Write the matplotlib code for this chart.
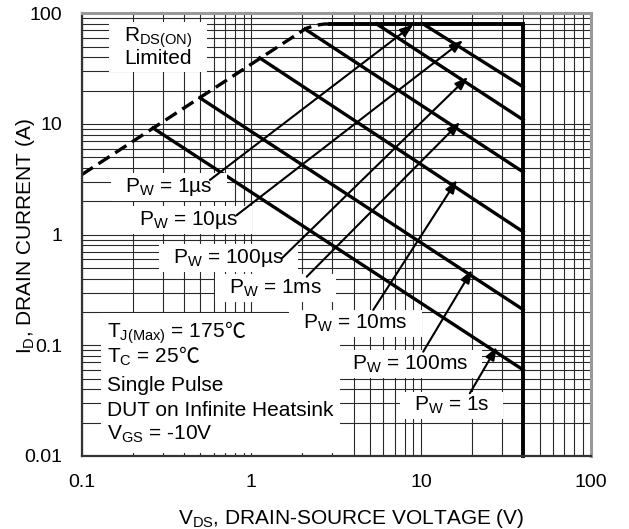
import matplotlib
matplotlib.use("Agg")
import matplotlib.pyplot as plt
from matplotlib.patches import Rectangle
from matplotlib.transforms import Bbox

plt.rcParams['font.family'] = ['Liberation Sans', 'DejaVu Sans']
plt.rcParams['mathtext.default'] = 'regular'

# device limits
v_max = 40.0
i_max = 80.0
v_flat = 2.9   # where the top (80 A) limit line starts

# R_DS(on) limited part (dashed)
rds_v = [0.1, 2.1, 2.4, 2.7, 2.9]
rds_i = [3.48, 73.0, 78.0, 80.0, 80.0]

# pulse lines: start point on the limit, current at v_max
pulse_v0 = [0.263, 0.498, 1.12, 2.07, 5.48, 10.3]
pulse_i0 = [9.2, 17.2, 39.5, 72.0, 80.0, 80.0]
pulse_iend = [0.06, 0.21, 1.06, 3.68, 10.9, 21.6]

# pulse width labels and their arrows
pw_text = ['1µs', '10µs', '100µs', '1ms', '10ms', '100ms', '1s']
pw_x = [0.0851, 0.1132, 0.180, 0.290, 0.4354, 0.5316, 0.6528]   # axes fraction, left
pw_y = [0.597, 0.5218, 0.4353, 0.3675, 0.2869, 0.1958, 0.1016]  # axes fraction, baseline
arr_v0 = [0.57, 0.82, 1.51, 2.12, 5.23, 10.3, 19.4]
arr_i0 = [3.12, 1.5, 0.61, 0.417, 0.209, 0.0876, 0.0369]
arr_v1 = [9.0, 17.7, 18.9, 17.0, 16.3, 20.0, 28.0]
arr_i1 = [79.0, 57.0, 26.6, 10.4, 3.12, 0.48, 0.0967]

xticks = [0.1, 1, 10, 100]
xtick_labels = ['0.1', '1', '10', '100']
yticks = [0.01, 0.1, 1, 10, 100]
ytick_labels = ['0.01', '0.1', '1', '10', '100']

fig = plt.figure(figsize=(6.29, 5.29), dpi=100)
ax = fig.add_axes([0.1299, 0.138, 0.8092, 0.8369])
ax.set_xscale('log')
ax.set_yscale('log')
ax.set_xlim(0.1, 100)
ax.set_ylim(0.01, 100)

ax.set_axisbelow(True)
ax.grid(True, which='both', color='#2a2a2a', lw=0.8)
ax.tick_params(which='both', length=0, labelsize=14)
ax.tick_params(axis='x', pad=13)
ax.tick_params(axis='y', pad=14)
ax.set_xticks(xticks)
ax.set_xticklabels(xtick_labels)
ax.set_yticks(yticks)
ax.set_yticklabels(ytick_labels)

for s in ['left', 'bottom']:
    ax.spines[s].set_color('#333333')
    ax.spines[s].set_linewidth(1.6)
for s in ['top', 'right']:
    ax.spines[s].set_color('#999999')
    ax.spines[s].set_linewidth(2.2)

# limit lines
ax.plot(rds_v, rds_i, color='k', lw=2.4, dashes=(4, 2), zorder=2)
ax.plot([v_flat, v_max, v_max], [i_max, i_max, 0.01], color='k', lw=2.8,
        solid_joinstyle='miter', solid_capstyle='projecting', clip_on=False, zorder=2)
for v0, i0, i1 in zip(pulse_v0, pulse_i0, pulse_iend):
    ax.plot([v0, v_max], [i0, i1], color='k', lw=2.4, zorder=2)

# arrows
for v0, i0, v1, i1 in zip(arr_v0, arr_i0, arr_v1, arr_i1):
    ax.annotate('', xy=(v1, i1), xytext=(v0, i0),
                arrowprops=dict(arrowstyle='-|>,head_length=0.55,head_width=0.2',
                                mutation_scale=14, lw=1.5, color='k',
                                shrinkA=0, shrinkB=0), zorder=4)

boxes = []   # (artists, pad_x, pad_y)

for t, x, y in zip(pw_text, pw_x, pw_y):
    a = ax.text(x, y, '$P_W$ = ' + t, transform=ax.transAxes, fontsize=15,
                ha='left', va='baseline', zorder=5)
    boxes.append(([a], 14, 3))

r1 = ax.text(0.0831, 0.9358, '$R_{DS(ON)}$', transform=ax.transAxes, fontsize=15,
             ha='left', va='baseline', zorder=5)
r2 = ax.text(0.0831, 0.8855, 'Limited', transform=ax.transAxes, fontsize=15,
             ha='left', va='baseline', zorder=5)
boxes.append(([r1, r2], 15, 4))

c1 = ax.text(0.0497, 0.2672, '$T_{J(Max)}$ = 175', transform=ax.transAxes,
             fontsize=15, ha='left', va='baseline', zorder=5)
c1b = ax.annotate('℃', xy=(1, 0.2672), xycoords=(c1, ax.transAxes), fontsize=15,
                  family=['Noto Sans CJK JP', 'DejaVu Sans'], ha='left', va='baseline', zorder=5)
c2 = ax.text(0.0497, 0.2101, '$T_C$ = 25', transform=ax.transAxes,
             fontsize=15, ha='left', va='baseline', zorder=5)
c2b = ax.annotate('℃', xy=(1, 0.2101), xycoords=(c2, ax.transAxes), fontsize=15,
                  family=['Noto Sans CJK JP', 'DejaVu Sans'], ha='left', va='baseline', zorder=5)
c3 = ax.text(0.0497, 0.1468, 'Single Pulse', transform=ax.transAxes,
             fontsize=15, ha='left', va='baseline', zorder=5)
c4 = ax.text(0.0497, 0.0904, 'DUT on Infinite Heatsink', transform=ax.transAxes,
             fontsize=15, ha='left', va='baseline', zorder=5)
c5 = ax.text(0.0497, 0.0361, '$V_{GS}$ = -10V', transform=ax.transAxes,
             fontsize=15, ha='left', va='baseline', zorder=5)
boxes.append(([c1, c1b, c2, c2b, c3, c4, c5], 6, 8))

ax.set_xlabel('$V_{DS}$, DRAIN-SOURCE VOLTAGE (V)', fontsize=15, va='baseline')
ax.xaxis.set_label_coords(0.53, -0.153)
ax.set_ylabel('$I_D$, DRAIN CURRENT (A)', fontsize=15)
ax.yaxis.set_label_coords(-0.088, 0.496)

# white backgrounds behind the labels
fig.canvas.draw()
rend = fig.canvas.get_renderer()
for arts, px, py in boxes:
    bb = Bbox.union([a.get_window_extent(rend) for a in arts])
    bb = Bbox.from_extents(bb.x0 - px, bb.y0 - py, bb.x1 + px, bb.y1 + py)
    bb = bb.transformed(ax.transAxes.inverted())
    ax.add_patch(Rectangle((bb.x0, bb.y0), bb.width, bb.height, transform=ax.transAxes,
                           facecolor='white', edgecolor='none', zorder=3))

fig.savefig('out.png', dpi=100)
